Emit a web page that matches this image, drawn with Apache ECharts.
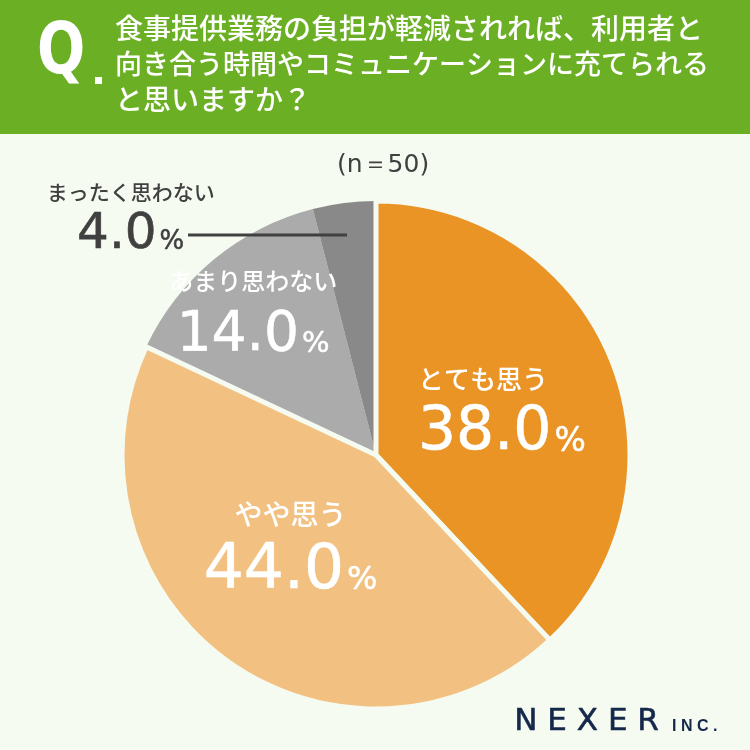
<!DOCTYPE html>
<html><head><meta charset="utf-8">
<script src="https://cdn.jsdelivr.net/npm/echarts@6/dist/echarts.min.js"></script>
<style>html,body{margin:0;padding:0;background:#f5fbf1;}#c{width:750px;height:750px;}</style>
</head><body><div id="c"></div>
<script>
var categories = ['とても思う', 'やや思う', 'あまり思わない', 'まったく思わない'];
var values = [38.0, 44.0, 14.0, 4.0];
var colors = ['#ea9426', '#f2c182', '#ababab', '#898989'];
var titleLines = ['食事提供業務の負担が軽減されれば、利用者と', '向き合う時間やコミュニケーションに充てられる', 'と思いますか？'];
var sampleText = '(n＝50)';

var JP = '"Noto Sans CJK JP", "Noto Sans", sans-serif';
var NUM = '"DejaVu Sans", sans-serif';
var BG = '#f5fbf1';
var chart = echarts.init(document.getElementById('c'));

// per-category label styling
var labelStyle = [
  {lineAlign: 'left', offset: [5, 8], nameSize: 26, nameLH: 36, valSize: 60, valLH: 72, pctSize: 33, color: '#ffffff', border: 5},
  {lineAlign: 'center', offset: [-9, -8], nameSize: 28, nameLH: 38, valSize: 63, valLH: 76, pctSize: 32, color: '#ffffff', border: 5},
  {lineAlign: 'center', offset: [-40, -37], nameSize: 24, nameLH: 36, valSize: 55, valLH: 74, pctSize: 29, color: '#ffffff', border: 0},
  {lineAlign: 'center', offset: [-229, -104], nameSize: 21, nameLH: 26, valSize: 50, valLH: 60, pctSize: 26, color: '#404040', border: 0}
];

var rich = {};
labelStyle.forEach(function (s, i) {
  rich['n' + i] = {fontSize: s.nameSize, lineHeight: s.nameLH, color: s.color, fontFamily: JP, fontWeight: 500, align: s.lineAlign};
  rich['v' + i] = {fontSize: s.valSize, lineHeight: s.valLH, color: s.color, fontFamily: NUM, align: s.lineAlign,
                   textBorderColor: s.color, textBorderWidth: 0.6};
  rich['p' + i] = {fontSize: s.pctSize, lineHeight: s.valLH, color: s.color, fontFamily: NUM, align: s.lineAlign,
                   textBorderColor: s.color, textBorderWidth: 0.5,
                   padding: [Math.round(s.valSize * 0.3), 0, 0, 3]};
});

// draw order: grey slices first so the orange slices' gaps sit on top
var order = [2, 3, 0, 1];
var before = values[0] + values[1];
var startAngle = 90 - 360 * before / 100 + 360;

var data = order.map(function (i) {
  var s = labelStyle[i];
  return {
    name: categories[i], value: values[i], idx: i,
    itemStyle: {color: colors[i], borderColor: BG, borderWidth: s.border},
    label: {offset: s.offset}
  };
});

chart.setOption({
  backgroundColor: BG,
  animation: false,
  graphic: [
    {type: 'rect', shape: {x: 0, y: 0, width: 750, height: 134}, style: {fill: '#6bb024'}},
    {type: 'text', x: 37, y: 19, scaleX: 0.8, style: {text: 'Q', fill: '#fff', font: 'bold 71px ' + NUM, textVerticalAlign: 'top'}},
    {type: 'rect', shape: {x: 95, y: 77, width: 7, height: 7}, style: {fill: '#fff'}},
    {type: 'text', left: 115, top: 14, style: {text: titleLines[0], fill: '#fff', font: '500 28px ' + JP}},
    {type: 'text', left: 115, top: 50, style: {text: titleLines[1], fill: '#fff', font: '500 27px ' + JP}},
    {type: 'text', left: 115, top: 85, style: {text: titleLines[2], fill: '#fff', font: '500 28px ' + JP}},
    {type: 'text', left: 337, top: 153, style: {text: sampleText, fill: '#404040', font: '25px ' + NUM}},
    {type: 'line', shape: {x1: 188, y1: 235, x2: 347, y2: 235}, style: {stroke: '#404040', lineWidth: 3}, z: 100},
    {type: 'text', left: 514, top: 706, style: {text: 'N E X E R', fill: '#14284a', stroke: '#14284a', lineWidth: 0.6, font: '31px ' + NUM}},
    {type: 'text', left: 672, top: 719, style: {text: 'I N C .', fill: '#14284a', font: 'bold 16px "Liberation Sans", sans-serif'}}
  ],
  series: [{
    type: 'pie',
    center: [376, 455],
    radius: [0, 254],
    startAngle: startAngle,
    clockwise: true,
    avoidLabelOverlap: false,
    label: {
      show: true,
      position: 'inside',
      formatter: function (p) {
        var i = p.data.idx;
        return '{n' + i + '|' + p.name + '}\n{v' + i + '|' + p.value.toFixed(1) + '}{p' + i + '|%}';
      },
      rich: rich
    },
    labelLine: {show: false},
    emphasis: {disabled: true},
    data: data
  }]
});
</script></body></html>
